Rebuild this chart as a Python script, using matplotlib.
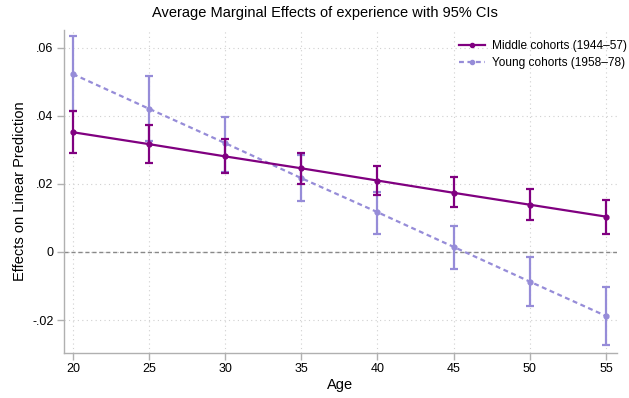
import matplotlib.pyplot as plt

plt.rcParams['font.family'] = ['Liberation Sans', 'DejaVu Sans']

# marginal effects of experience by age, with 95% CIs
ages = [20, 25, 30, 35, 40, 45, 50, 55]

middle_est = [0.0352, 0.0317, 0.0281, 0.0246, 0.0210, 0.0174, 0.0139, 0.0104]
middle_lo = [0.0290, 0.0261, 0.0231, 0.0200, 0.0168, 0.0131, 0.0093, 0.0054]
middle_hi = [0.0415, 0.0374, 0.0332, 0.0292, 0.0254, 0.0219, 0.0185, 0.0153]

young_est = [0.0523, 0.0421, 0.0320, 0.0217, 0.0117, 0.0015, -0.0087, -0.0188]
young_lo = [0.0413, 0.0325, 0.0236, 0.0150, 0.0054, -0.0049, -0.0159, -0.0273]
young_hi = [0.0635, 0.0516, 0.0398, 0.0285, 0.0177, 0.0077, -0.0016, -0.0104]

yticks = [-0.02, 0, 0.02, 0.04, 0.06]
ytick_labels = ['-.02', '0', '.02', '.04', '.06']

purple = '#800080'
lavender = '#968cd8'

fig = plt.figure(figsize=(6.29, 3.98), dpi=100)
ax = fig.add_axes([0.1017, 0.113, 0.879, 0.812])

# young cohorts first so the middle line sits on top
ax.errorbar(ages, young_est,
            yerr=[[e - l for e, l in zip(young_est, young_lo)],
                  [h - e for e, h in zip(young_est, young_hi)]],
            fmt='none', ecolor=lavender, elinewidth=1.6, capsize=3, capthick=1.6, zorder=3)
ax.plot(ages, young_est, color=lavender, lw=1.6, ls=(0, (2.2, 1.6)),
        marker='o', ms=3.5, label='Young cohorts (1958\u201378)', zorder=4)

ax.errorbar(ages, middle_est,
            yerr=[[e - l for e, l in zip(middle_est, middle_lo)],
                  [h - e for e, h in zip(middle_est, middle_hi)]],
            fmt='none', ecolor=purple, elinewidth=1.6, capsize=3, capthick=1.6, zorder=5)
ax.plot(ages, middle_est, color=purple, lw=1.6, marker='o', ms=3.5,
        label='Middle cohorts (1944\u201357)', zorder=6)

ax.axhline(0, color='#888888', ls=(0, (3, 2)), lw=1.0, zorder=2)

ax.set_xlim(19.41, 55.72)
ax.set_ylim(-0.0297, 0.0653)
ax.set_xticks(ages)
ax.set_yticks(yticks)
ax.set_yticklabels(ytick_labels)
ax.grid(True, color='#d0d0d0', ls=(0, (1, 3)), lw=0.8)

for side in ['top', 'right']:
    ax.spines[side].set_visible(False)
for side in ['left', 'bottom']:
    ax.spines[side].set_color('#b0b0b0')
    ax.spines[side].set_linewidth(1.0)
ax.tick_params(colors='#b0b0b0', labelcolor='black', labelsize=9, length=5, width=1.0, pad=2.5)

ax.set_xlabel('Age', fontsize=10.5, labelpad=2)
ax.set_ylabel('Effects on Linear Prediction', fontsize=10.5, labelpad=4)

handles, labels = ax.get_legend_handles_labels()
leg = ax.legend(handles[::-1], labels[::-1], loc='upper right',
                bbox_to_anchor=(627 / 629, 1 - 40 / 398), bbox_transform=fig.transFigure,
                frameon=False, fontsize=8.6, handlelength=2.2, handletextpad=0.6,
                labelspacing=0.4, borderaxespad=0, borderpad=0, markerscale=0.85)

fig.text(325 / 629, 1 - 13 / 398, 'Average Marginal Effects of experience with 95% CIs',
         ha='center', va='center', fontsize=10.5)

fig.savefig('out.png', dpi=100)
